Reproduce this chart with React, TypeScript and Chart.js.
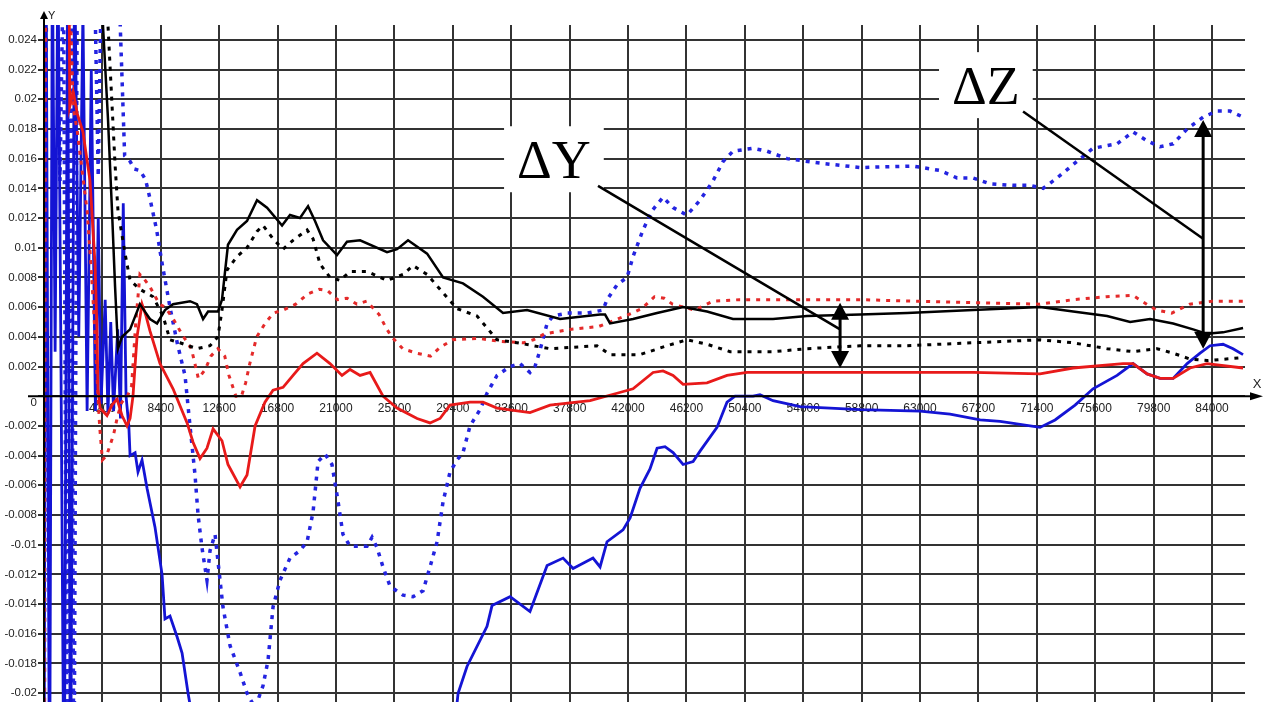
import { useEffect, useRef } from 'react';
import { Chart, registerables } from 'chart.js';

Chart.register(...registerables);

type Pt = [number, number];

// ---- series values: [x, y] ----
const blackSolid: Pt[] = [
  [0, 0.06], [4100, 0.045], [4240, 0.025], [4600, 0.0187], [4890, 0.0125], [5110, 0.0074], [5320, 0.0032],
  [5610, 0.004], [6190, 0.0045], [6900, 0.0062], [7260, 0.0057], [7620, 0.0052], [8130, 0.0049], [8700, 0.0058],
  [9280, 0.0062], [10500, 0.0064], [11000, 0.0062], [11440, 0.0052], [11800, 0.0057], [12510, 0.0057],
  [12800, 0.0065], [13230, 0.0102], [13880, 0.0112], [14600, 0.0118], [15320, 0.0132], [16040, 0.0127],
  [17120, 0.0115], [17690, 0.0122], [18410, 0.012], [18990, 0.0128], [19490, 0.0118], [20070, 0.0105],
  [21070, 0.0095], [21790, 0.0104], [22730, 0.0105], [24670, 0.0097], [25390, 0.0099], [26180, 0.0105],
  [27550, 0.0096], [28700, 0.008], [30130, 0.0076], [31570, 0.0067], [33010, 0.0056], [34740, 0.0058],
  [37110, 0.0052], [39990, 0.0055], [40350, 0.0055], [40710, 0.0049], [42360, 0.0052], [44090, 0.0056],
  [45960, 0.006], [47680, 0.0057], [49550, 0.0052], [52430, 0.0052], [54870, 0.0054], [58690, 0.0055],
  [62070, 0.0056], [66810, 0.0058], [71630, 0.006], [74010, 0.0057], [76450, 0.0054], [78110, 0.005],
  [79540, 0.0052], [81200, 0.0049], [82640, 0.0045], [83640, 0.0042], [84790, 0.0043], [86230, 0.0046],
];

const blackDotted: Pt[] = [
  [0, 0.06], [4500, 0.045], [4600, 0.025], [5110, 0.0156], [5320, 0.0125], [5830, 0.0096], [6190, 0.0078],
  [6900, 0.0072], [7840, 0.0067], [8560, 0.0054], [9060, 0.0038], [9780, 0.0036], [11000, 0.0032],
  [11940, 0.0034], [12510, 0.004], [12800, 0.0058], [13160, 0.0085], [13880, 0.0094], [14600, 0.01],
  [15320, 0.0111], [15750, 0.0115], [16470, 0.0106], [17190, 0.0099], [17910, 0.0105], [18920, 0.0112],
  [19350, 0.0106], [19850, 0.0089], [20570, 0.008], [21290, 0.0078], [22010, 0.0084], [23230, 0.0084],
  [24670, 0.0078], [25820, 0.0082], [26540, 0.0088], [27550, 0.0082], [28480, 0.0072], [29700, 0.0059],
  [31140, 0.0054], [32580, 0.0038], [34020, 0.0036], [36390, 0.0032], [39770, 0.0034], [40710, 0.0028],
  [42860, 0.0028], [44810, 0.0034], [46240, 0.0038], [47680, 0.0035], [49340, 0.003], [52430, 0.003],
  [54870, 0.0032], [58690, 0.0034], [62070, 0.0034], [66810, 0.0036], [71630, 0.0038], [74010, 0.0036],
  [76450, 0.0032], [78320, 0.003], [80050, 0.0032], [81200, 0.0029], [82420, 0.0025], [83640, 0.0024],
  [86230, 0.0026],
];

const redSolid: Pt[] = [
  [0, 0.06], [1700, 0.05], [1850, 0.0195], [2100, 0.0205], [2400, 0.019], [2800, 0.0178], [3310, 0.0145],
  [3670, 0.0089], [3810, 0.0045], [3880, 0.0005], [4030, -0.0008], [4530, -0.0013], [4890, -0.0006],
  [5250, -0.0002], [5610, -0.0013], [5970, -0.002], [6190, -0.0015], [6400, 0.0], [6690, 0.004],
  [7050, 0.0062], [7340, 0.0054], [7620, 0.0044], [8340, 0.0022], [9280, 0.0005], [10290, -0.0018],
  [10720, -0.0031], [11220, -0.0042], [11720, -0.0035], [12160, -0.0022], [12800, -0.003], [13230, -0.0046],
  [14100, -0.0061], [14600, -0.0053], [15180, -0.002], [15890, -0.0004], [16470, 0.0004], [17190, 0.0006],
  [17910, 0.0014], [18630, 0.0022], [19630, 0.0029], [20570, 0.0022], [21430, 0.0014], [22010, 0.0018],
  [22730, 0.0014], [23450, 0.0016], [24380, 0.0], [25390, -0.0008], [26830, -0.0015], [27760, -0.0018],
  [28480, -0.0015], [29200, -0.0006], [30640, -0.0004], [31570, -0.0004], [32580, -0.0008], [34950, -0.0011],
  [36390, -0.0006], [39270, -0.0003], [41210, 0.0002], [42360, 0.0005], [43800, 0.0016], [44520, 0.0017],
  [45240, 0.0014], [45960, 0.0008], [47680, 0.0009], [49120, 0.0014], [50560, 0.0016], [58690, 0.0016],
  [66810, 0.0016], [71630, 0.0015], [74010, 0.0019], [77600, 0.0022], [78320, 0.0022], [79330, 0.0015],
  [80260, 0.0012], [81200, 0.0012], [82420, 0.0019], [83640, 0.0022], [86230, 0.0019],
];

const redDotted: Pt[] = [
  [0, -0.03], [150, 0.04], [1700, 0.04], [1900, 0.026], [2100, 0.0195], [2400, 0.0178], [2700, 0.0155],
  [3100, 0.0125], [3400, 0.0085], [3650, 0.0045], [3850, 0.0005], [4000, -0.002], [4200, -0.0043],
  [4500, -0.004], [5000, -0.0026], [5300, -0.0013], [5600, -0.0004], [6000, 0.0], [6300, 0.0007],
  [6600, 0.005], [6900, 0.0082], [7200, 0.0079], [7600, 0.0074], [8300, 0.0062], [8700, 0.006],
  [9300, 0.0052], [9900, 0.0042], [10600, 0.0032], [11100, 0.0012], [11600, 0.0018], [12000, 0.0027],
  [12500, 0.0032], [13000, 0.0027], [13300, 0.0014], [13800, 0.0], [14200, 0.0], [14500, 0.0009],
  [14800, 0.0022], [15300, 0.004], [15900, 0.0049], [16500, 0.0056], [17200, 0.0058], [18100, 0.0062],
  [19000, 0.0069], [19800, 0.0072], [20400, 0.0071], [21100, 0.0065], [21800, 0.0066], [22500, 0.0062],
  [23200, 0.0064], [24100, 0.0055], [24600, 0.0046], [25000, 0.004], [25800, 0.0032], [26800, 0.0029],
  [27800, 0.0027], [28500, 0.0033], [29400, 0.0038], [31200, 0.0039], [32800, 0.0037], [34500, 0.0036],
  [35200, 0.0038], [36000, 0.0042], [37800, 0.0045], [39900, 0.0047], [41800, 0.0054], [43000, 0.0059],
  [43900, 0.0067], [44600, 0.0066], [45200, 0.0062], [46800, 0.0058], [48100, 0.0064], [50000, 0.0065],
  [58700, 0.0065], [66800, 0.0063], [71600, 0.0062], [74000, 0.0065], [76400, 0.0067], [78300, 0.0068],
  [79300, 0.0062], [80000, 0.0058], [81100, 0.0056], [82400, 0.0062], [84000, 0.0064], [86230, 0.0064],
];

const blueSolid: Pt[] = [
  [0, -0.03], [150, 0.03], [400, -0.03], [600, 0.03], [800, 0.003], [1000, 0.03], [1200, 0.005],
  [1450, -0.03], [1700, 0.03], [1900, -0.03], [2200, 0.03], [2500, 0.004], [2800, 0.026], [3100, -0.001],
  [3400, 0.022], [3700, -0.001], [3900, 0.012], [4100, -0.0005], [4400, 0.0065], [4600, -0.0012],
  [4800, 0.005], [5000, -0.001], [5300, 0.0045], [5500, -0.0015], [5700, 0.013], [5900, 0.0],
  [6100, -0.002], [6190, -0.004], [6550, -0.0038], [6760, -0.0051], [7050, -0.0043], [7410, -0.0062],
  [7980, -0.0088], [8490, -0.012], [8700, -0.015], [9060, -0.0148], [9570, -0.0162], [9930, -0.0173],
  [10360, -0.02], [10860, -0.0227], [16000, -0.04], [27500, -0.04], [29780, -0.02], [30420, -0.0182],
  [31860, -0.0155], [32220, -0.0141], [33520, -0.0135], [34950, -0.0145], [36180, -0.0114], [37330, -0.0109],
  [38050, -0.0116], [39480, -0.0109], [39990, -0.0115], [40490, -0.0098], [41640, -0.009], [42150, -0.0082],
  [42860, -0.0062], [43580, -0.0049], [44090, -0.0035], [44660, -0.0034], [45240, -0.0038], [45960, -0.0046],
  [46680, -0.0044], [47180, -0.0037], [48400, -0.0021], [49120, -0.0004], [49700, 0.0], [50990, 0.0],
  [51490, 0.0001], [52430, -0.0003], [54370, -0.0007], [58690, -0.0009], [63000, -0.001], [65160, -0.0012],
  [67320, -0.0016], [68760, -0.0017], [71630, -0.0021], [72710, -0.0016], [74150, -0.0006], [75440, 0.0005],
  [77170, 0.0014], [78320, 0.0022], [79330, 0.0015], [80260, 0.0012], [81200, 0.0012], [82210, 0.0022],
  [83140, 0.0029], [83860, 0.0034], [84790, 0.0035], [85510, 0.0032], [86230, 0.0028],
];

const blueDotted: Pt[] = [
  [0, -0.03], [200, 0.035], [900, 0.03], [1150, 0.0145], [1400, 0.03], [1650, -0.03], [1950, 0.03],
  [2150, -0.03], [2400, 0.03], [3600, 0.03], [3900, 0.0148], [4150, 0.03], [5300, 0.03], [5800, 0.0162],
  [6200, 0.0158], [6500, 0.0153], [6900, 0.0152], [7300, 0.0146], [7600, 0.0134], [8100, 0.0112],
  [8500, 0.0089], [9100, 0.0058], [9600, 0.0035], [10140, 0.0014], [10500, -0.002], [10860, -0.0053],
  [11080, -0.008], [11360, -0.0102], [11720, -0.0124], [11940, -0.0104], [12300, -0.0093], [12510, -0.0111],
  [12870, -0.0142], [13380, -0.0168], [14100, -0.0186], [14600, -0.02], [15180, -0.021], [15750, -0.0195],
  [16110, -0.0178], [16470, -0.0142], [16970, -0.0124], [17690, -0.0109], [18410, -0.0104], [18920, -0.0098],
  [19350, -0.0078], [19710, -0.0044], [20210, -0.0039], [20710, -0.0046], [21150, -0.0071], [21500, -0.0093],
  [22010, -0.0101], [23230, -0.0101], [23590, -0.0095], [23950, -0.0102], [24380, -0.0115], [24890, -0.0128],
  [25820, -0.0134], [26540, -0.0135], [27260, -0.0131], [27760, -0.0115], [28270, -0.0098], [28700, -0.0071],
  [29200, -0.0051], [29700, -0.0043], [30130, -0.0038], [30640, -0.002], [31360, -0.0009], [31860, 0.0002],
  [32580, 0.0014], [33520, 0.002], [34230, 0.0022], [34950, 0.0016], [35310, 0.002], [35670, 0.0031],
  [36180, 0.0049], [36610, 0.0054], [37610, 0.0056], [39050, 0.0056], [40200, 0.0058], [40490, 0.0065],
  [41210, 0.0075], [41930, 0.008], [42360, 0.0094], [43080, 0.0112], [43730, 0.0125], [44520, 0.0134],
  [45240, 0.0127], [46240, 0.0122], [47180, 0.0132], [48110, 0.0145], [48830, 0.0158], [49550, 0.0165],
  [50990, 0.0167], [52000, 0.0165], [53440, 0.016], [55810, 0.0157], [58690, 0.0154], [62500, 0.0155],
  [64440, 0.0152], [65660, 0.0147], [66810, 0.0147], [68040, 0.0143], [69690, 0.0142], [70910, 0.0142],
  [71850, 0.014], [72860, 0.0147], [74010, 0.0156], [75440, 0.0167], [77170, 0.017], [78320, 0.0178],
  [79330, 0.0172], [80260, 0.0168], [81200, 0.017], [82210, 0.018], [83360, 0.0188], [84360, 0.0192],
  [85300, 0.0192], [86230, 0.0188],
];

// ---- axes / tick labels ----
const xMin = 0;
const xMax = 86370;
const xTickValues = [
  0, 4200, 8400, 12600, 16800, 21000, 25200, 29400, 33600, 37800, 42000,
  46200, 50400, 54600, 58800, 63000, 67200, 71400, 75600, 79800, 84000,
];
const yMin = -0.0206;
const yMax = 0.025;
const yTickValues = [
  -0.02, -0.018, -0.016, -0.014, -0.012, -0.01, -0.008, -0.006, -0.004, -0.002, 0,
  0.002, 0.004, 0.006, 0.008, 0.01, 0.012, 0.014, 0.016, 0.018, 0.02, 0.022, 0.024,
];
const xAxisTitle = 'X';
const yAxisTitle = 'Y';

// ---- annotations (data units) ----
const noteText = ['ΔY', 'ΔZ'];
const noteTextX = [34020, 65300];
const noteTextY = [0.01468, 0.01967];
const leaderStartX = [39840, 70410];
const leaderStartY = [0.01417, 0.01917];
const leaderEndX = [57250, 83360];
const leaderEndY = [0.0045, 0.0106];
const arrowTopY = [0.0063, 0.0186];
const arrowBottomY = [0.0019, 0.0032];

const toXY = (pts: Pt[]) => pts.map(([x, y]) => ({ x, y }));

const overlayPlugin = {
  id: 'overlay',
  afterDatasetsDraw(chart: any) {
    const { ctx, chartArea, scales } = chart;
    const xs = scales.x;
    const ys = scales.y;
    const ox = xs.getPixelForValue(0);
    const oy = ys.getPixelForValue(0);
    ctx.save();
    ctx.strokeStyle = '#000';
    ctx.fillStyle = '#000';
    ctx.lineWidth = 2;
    // y axis with arrow
    ctx.beginPath();
    ctx.moveTo(ox, chartArea.bottom);
    ctx.lineTo(ox, chartArea.top - 6);
    ctx.stroke();
    ctx.beginPath();
    ctx.moveTo(ox, chartArea.top - 14);
    ctx.lineTo(ox - 4, chartArea.top - 6);
    ctx.lineTo(ox + 4, chartArea.top - 6);
    ctx.closePath();
    ctx.fill();
    // x axis with arrow
    ctx.beginPath();
    ctx.moveTo(chartArea.left - 16, oy);
    ctx.lineTo(chartArea.right + 6, oy);
    ctx.stroke();
    ctx.beginPath();
    ctx.moveTo(chartArea.right + 18, oy);
    ctx.lineTo(chartArea.right + 5, oy - 4);
    ctx.lineTo(chartArea.right + 5, oy + 4);
    ctx.closePath();
    ctx.fill();
    ctx.fillStyle = '#222';
    ctx.font = '11px Arial, "Liberation Sans", sans-serif';
    ctx.textAlign = 'left';
    ctx.textBaseline = 'alphabetic';
    ctx.fillText(yAxisTitle, ox + 4, chartArea.top - 6);
    ctx.font = '13px Arial, "Liberation Sans", sans-serif';
    ctx.textAlign = 'center';
    ctx.fillText(xAxisTitle, chartArea.right + 12, oy - 8);

    // annotations
    ctx.font = '54px "Liberation Serif", "Times New Roman", serif';
    ctx.textAlign = 'left';
    ctx.textBaseline = 'alphabetic';
    for (let i = 0; i < noteText.length; i++) {
      const tx = xs.getPixelForValue(noteTextX[i]);
      const ty = ys.getPixelForValue(noteTextY[i]);
      const w = ctx.measureText(noteText[i]).width;
      ctx.fillStyle = '#fff';
      ctx.fillRect(tx - 13, ty - 52, w + 26, 66);
      ctx.fillStyle = '#000';
      ctx.fillText(noteText[i], tx, ty);

      // leader line
      ctx.lineWidth = 2.5;
      ctx.beginPath();
      ctx.moveTo(xs.getPixelForValue(leaderStartX[i]), ys.getPixelForValue(leaderStartY[i]));
      ctx.lineTo(xs.getPixelForValue(leaderEndX[i]), ys.getPixelForValue(leaderEndY[i]));
      ctx.stroke();

      // double arrow
      const ax = xs.getPixelForValue(leaderEndX[i]);
      const at = ys.getPixelForValue(arrowTopY[i]);
      const ab = ys.getPixelForValue(arrowBottomY[i]);
      const hl = 17;
      const hw = 9;
      ctx.lineWidth = 3;
      ctx.beginPath();
      ctx.moveTo(ax, at + hl - 2);
      ctx.lineTo(ax, ab - hl + 2);
      ctx.stroke();
      ctx.beginPath();
      ctx.moveTo(ax, at);
      ctx.lineTo(ax - hw, at + hl);
      ctx.lineTo(ax + hw, at + hl);
      ctx.closePath();
      ctx.fill();
      ctx.beginPath();
      ctx.moveTo(ax, ab);
      ctx.lineTo(ax - hw, ab - hl);
      ctx.lineTo(ax + hw, ab - hl);
      ctx.closePath();
      ctx.fill();
    }
    ctx.restore();
  },
};

export default function App() {
  const canvasRef = useRef<HTMLCanvasElement | null>(null);

  useEffect(() => {
    const canvas = canvasRef.current;
    if (!canvas) return;
    const tickFont = { family: 'Arial, "Liberation Sans", sans-serif', size: 11.5 };
    const chart = new Chart(canvas, {
      type: 'line',
      data: {
        datasets: [
          { label: 'black solid', data: toXY(blackSolid), borderColor: '#000000', borderWidth: 2.5 },
          { label: 'black dotted', data: toXY(blackDotted), borderColor: '#000000', borderWidth: 3, borderDash: [4, 6] },
          { label: 'red solid', data: toXY(redSolid), borderColor: '#e81a1a', borderWidth: 2.8 },
          { label: 'red dotted', data: toXY(redDotted), borderColor: '#e42a2a', borderWidth: 3, borderDash: [4, 6] },
          { label: 'blue solid', data: toXY(blueSolid), borderColor: '#1414d4', borderWidth: 2.8 },
          { label: 'blue dotted', data: toXY(blueDotted), borderColor: '#2424e0', borderWidth: 3.5, borderDash: [4, 6] },
        ],
      },
      options: {
        animation: false,
        responsive: false,
        devicePixelRatio: 1,
        layout: { padding: { left: 0, right: 27, top: 25, bottom: 0 } },
        plugins: { legend: { display: false }, tooltip: { enabled: false } },
        elements: { point: { radius: 0 }, line: { tension: 0, fill: false } },
        scales: {
          x: {
            type: 'linear',
            position: { y: 0 } as any,
            min: xMin,
            max: xMax,
            border: { display: false },
            afterBuildTicks: (s: any) => {
              s.ticks = xTickValues.map((value) => ({ value }));
            },
            grid: { color: '#333333', lineWidth: 2, drawTicks: false },
            ticks: {
              autoSkip: false,
              maxRotation: 0,
              padding: 5,
              color: '#222',
              font: { ...tickFont, size: 12 },
              callback: (v: any) => (Number(v) === 0 ? '' : String(v)),
            },
          },
          y: {
            type: 'linear',
            position: 'left',
            min: yMin,
            max: yMax,
            border: { display: false },
            afterFit: (s: any) => {
              s.width = 44;
            },
            afterBuildTicks: (s: any) => {
              s.ticks = yTickValues.map((value) => ({ value }));
            },
            grid: { color: '#333333', lineWidth: 2, tickLength: 6 },
            ticks: {
              autoSkip: false,
              padding: 1,
              color: '#222',
              font: tickFont,
              callback: (v: any) => {
                const n = +Number(v).toFixed(3);
                return n === 0 ? ['', '0'] : String(n);
              },
            },
          },
        },
      } as any,
      plugins: [overlayPlugin],
    });
    return () => chart.destroy();
  }, []);

  return (
    <div style={{ position: 'absolute', left: 0, top: 0, width: 1272, height: 710, background: '#fff' }}>
      <canvas ref={canvasRef} width={1272} height={710} style={{ display: 'block' }} />
    </div>
  );
}
